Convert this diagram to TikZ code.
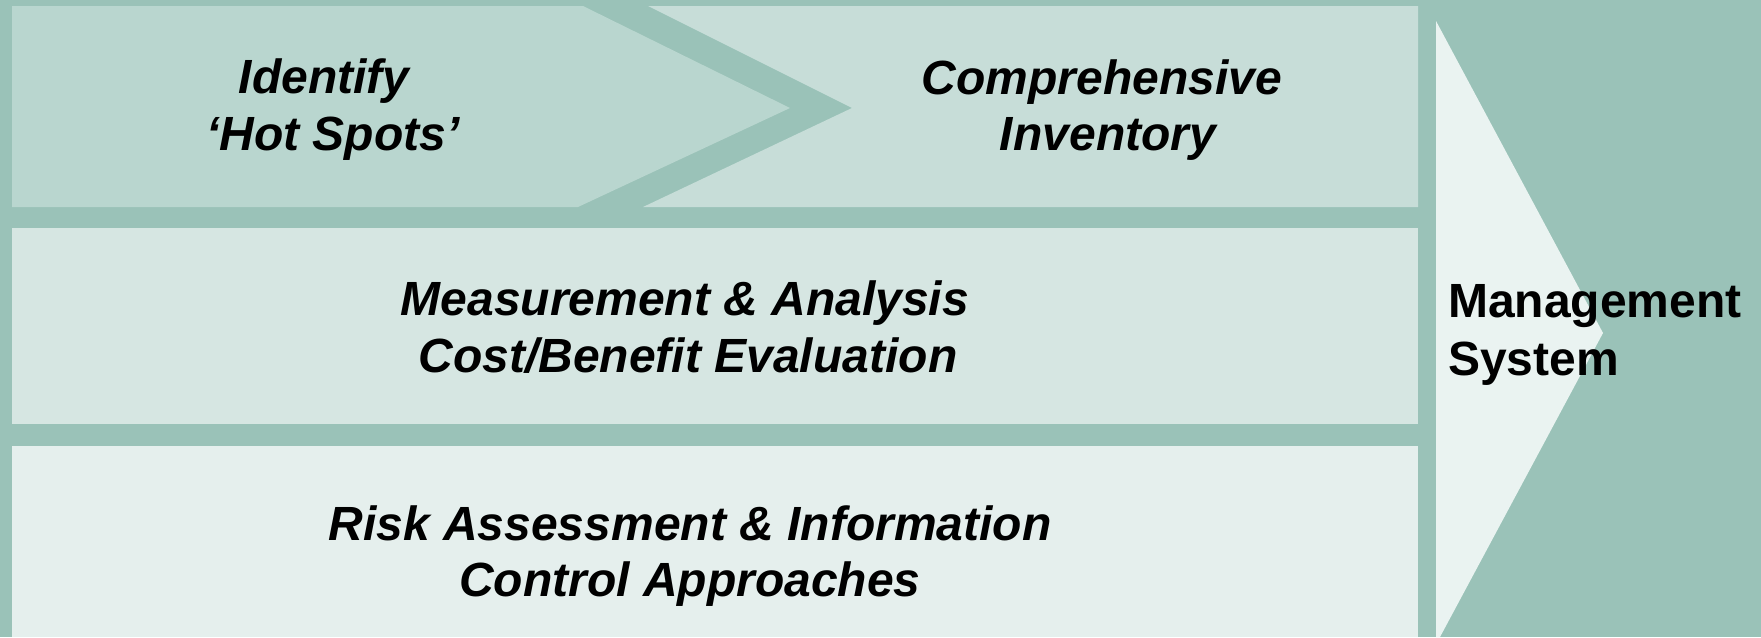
\documentclass[tikz,border=0pt]{standalone}
\usepackage{fontspec}
\setmainfont{Liberation Sans}

\definecolor{bgteal}{HTML}{9AC2B8}
\definecolor{hotspot}{HTML}{B9D6CF}
\definecolor{inventory}{HTML}{C7DDD8}
\definecolor{measure}{HTML}{D6E6E2}
\definecolor{risk}{HTML}{E5EFED}
\definecolor{arrowfill}{HTML}{EAF3F1}

\begin{document}
\begin{tikzpicture}[x=1pt, y=-1pt,
  stagetext/.style={anchor=base, inner sep=0pt,
    font=\fontsize{48}{57}\selectfont\bfseries\itshape},
  systext/.style={anchor=base west, inner sep=0pt,
    font=\fontsize{48}{58}\selectfont\bfseries}]

  % page frame
  \useasboundingbox (0,0) rectangle (1761,637);
  \fill[bgteal] (0,0) rectangle (1761,637);

  % big arrow pointing to the management system
  \fill[arrowfill] (1436,21) -- (1603,333) -- (1440,637) -- (1436,637) -- cycle;

  % top row: chevron and notched box
  \fill[hotspot] (12,6) -- (583,6) -- (790,108) -- (578,207) -- (12,207) -- cycle;
  \fill[inventory] (648,6) -- (1418,6) -- (1418,207) -- (643,207) -- (852,108) -- cycle;

  % middle and bottom rows
  \fill[measure] (12,228) rectangle (1418,424);
  \fill[risk] (12,446) rectangle (1418,637);

  % labels
  \node[stagetext] (hotA) at (324,93) {Identify};
  \node[stagetext] (hotB) at (333,150) {‘Hot Spots’};
  \node[stagetext] (invA) at (1102,94) {Comprehensive};
  \node[stagetext] (invB) at (1108,150) {Inventory};
  \node[stagetext] (measA) at (685,315) {Measurement \& Analysis};
  \node[stagetext] (measB) at (688,372) {Cost/Benefit Evaluation};
  \node[stagetext] (riskA) at (690,540) {Risk Assessment \& Information};
  \node[stagetext] (riskB) at (690,596) {Control Approaches};
  \node[systext] (sysA) at (1448,317) {Management};
  \node[systext] (sysB) at (1448,375) {System};
\end{tikzpicture}
\end{document}
